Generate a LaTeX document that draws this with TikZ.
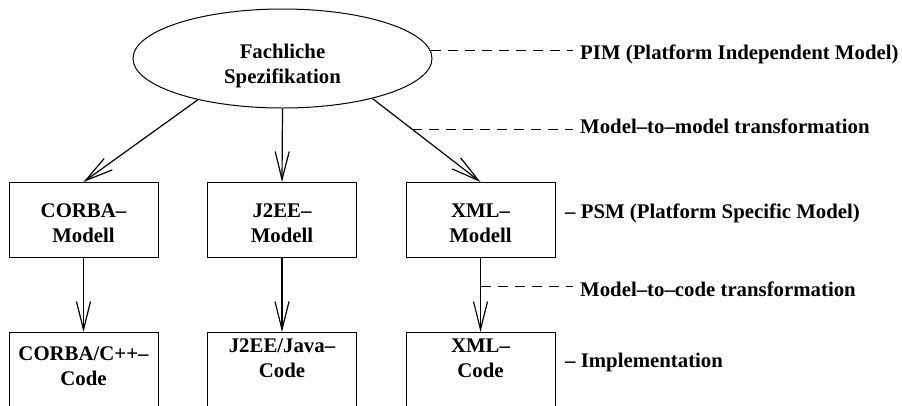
\documentclass[tikz,border=0pt]{standalone}
\usepackage{fontspec}
\setmainfont{Liberation Serif}
\usetikzlibrary{arrows.meta,shapes.geometric}

\begin{document}
\begin{tikzpicture}[x=1pt,y=-1pt,
    every node/.style={font=\fontsize{20.8}{25}\selectfont\bfseries},
    modelbox/.style={draw,line width=1pt,rectangle,minimum width=149pt,inner xsep=0pt,inner ysep=0pt,align=center,anchor=north,text height=60pt,text depth=15pt},
    codebox/.style={modelbox,text height=45pt,text depth=90pt},
    flow/.style={-{Straight Barb[length=28pt,width=14pt]},line width=1.2pt},
    level/.style={dash pattern=on 10pt off 7pt,line width=1.2pt,shorten >=7pt},
    levellabel/.style={anchor=base west,inner sep=0pt}]
  \useasboundingbox (0,0) rectangle (902,405);
  \clip (0,0) rectangle (902,405);
  % PIM
  \node[draw,ellipse,line width=1pt,minimum width=299pt,minimum height=99pt,inner sep=0pt,align=center,text height=55pt,text depth=6pt] (spec) at (282.5,58.5) {Fachliche\\Spezifikation};
  % PSM
  \node[modelbox] (corba) at (83.5,182) {CORBA--\\Modell};
  \node[modelbox] (j2ee) at (282,182) {J2EE--\\Modell};
  \node[modelbox] (xml) at (480.5,182) {XML--\\Modell};
  % code
  \node[codebox,text height=53pt] (corbacode) at (83.5,332) {CORBA/C++--\\Code};
  \node[codebox] (j2eecode) at (282,332) {J2EE/Java--\\Code};
  \node[codebox] (xmlcode) at (480.5,332) {XML--\\Code};
  % levels
  \node[levellabel] (pim) at (580,59) {PIM (Platform Independent Model)};
  \node[levellabel] (mtm) at (580,133) {Model--to--model transformation};
  \node[levellabel] (psm) at (565,218) {-- PSM (Platform Specific Model)};
  \node[levellabel] (mtc) at (580,296) {Model--to--code transformation};
  \node[levellabel] (impl) at (565,367) {-- Implementation};

  \draw[flow] (spec.206) -- (corba.north);
  \draw[flow] (spec.south) -- (j2ee.north);
  \draw[flow] (spec.336) -- coordinate[pos=0.37] (mtmstart) (xml.north);
  \draw[flow] (corba.south) -- (corbacode.north);
  \draw[flow] (j2ee.south) -- (j2eecode.north);
  \draw[flow] (xml.south) -- coordinate[pos=0.38] (mtcstart) (xmlcode.north);

  \draw[level] (spec.3.5) -- (pim.west |- spec.3.5);
  \draw[level] (mtmstart) -- (mtm.west |- mtmstart);
  \draw[level] (mtcstart) -- (mtc.west |- mtcstart);
\end{tikzpicture}
\end{document}
